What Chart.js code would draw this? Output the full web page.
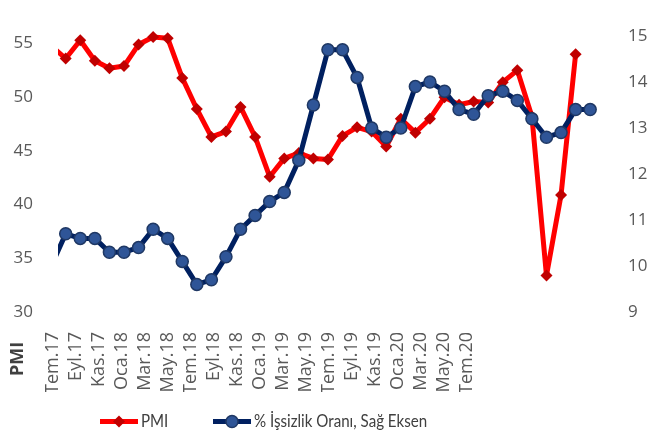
<!DOCTYPE html>
<html>
<head>
<meta charset="utf-8">
<script src="https://cdn.jsdelivr.net/npm/chart.js@4/dist/chart.umd.min.js"></script>
<style>
  html, body { margin: 0; padding: 0; background: #fff; }
</style>
</head>
<body>
<canvas id="pmiChart" width="664" height="438"></canvas>
<script>
// alt eksen etiketleri (iki ayda bir)
const tickLabels = ['Tem.17', 'Eyl.17', 'Kas.17', 'Oca.18', 'Mar.18', 'May.18', 'Tem.18',
  'Eyl.18', 'Kas.18', 'Oca.19', 'Mar.19', 'May.19', 'Tem.19', 'Eyl.19', 'Kas.19',
  'Oca.20', 'Mar.20', 'May.20', 'Tem.20'];

// PMI (sol eksen)
const pmi = [54.8, 53.6, 55.3, 53.4, 52.7, 52.9, 54.9, 55.6, 55.5, 51.8, 48.9, 46.3, 46.8,
  49.1, 46.3, 42.6, 44.3, 44.8, 44.3, 44.2, 46.4, 47.2, 46.8, 45.4, 48.0, 46.7, 48.0,
  50.0, 49.3, 49.6, 49.5, 51.4, 52.5, 48.2, 33.4, 40.9, 54.0];

// % işsizlik oranı (sağ eksen)
const issizlik = [10.0, 10.7, 10.6, 10.6, 10.3, 10.3, 10.4, 10.8, 10.6, 10.1, 9.6, 9.7, 10.2,
  10.8, 11.1, 11.4, 11.6, 12.3, 13.5, 14.7, 14.7, 14.1, 13.0, 12.8, 13.0, 13.9, 14.0,
  13.8, 13.4, 13.3, 13.7, 13.8, 13.6, 13.2, 12.8, 12.9, 13.4, 13.4];

const toPoints = arr => arr.map((v, i) => ({ x: i, y: v }));

const TICK_FONT = { family: '"Open Sans", sans-serif', size: 17 };
const GRAY = '#595959';

// legend + "PMI" yazısı elle çiziliyor
const extras = {
  id: 'extras',
  afterDraw(chart) {
    const ctx = chart.ctx;
    ctx.save();
    ctx.translate(18, 359);
    ctx.rotate(-Math.PI / 2);
    ctx.font = 'bold 18px "Open Sans", sans-serif';
    ctx.fillStyle = '#404040';
    ctx.textAlign = 'center';
    ctx.textBaseline = 'middle';
    ctx.fillText('PMI', 0, 0);
    ctx.restore();

    const y = 421.5;
    const items = [
      { x: 100, ds: chart.data.datasets[0] },
      { x: 213, ds: chart.data.datasets[1] }
    ];
    ctx.save();
    items.forEach(it => {
      const ds = it.ds;
      ctx.strokeStyle = ds.borderColor;
      ctx.lineWidth = ds.borderWidth;
      ctx.beginPath();
      ctx.moveTo(it.x, y);
      ctx.lineTo(it.x + 38, y);
      ctx.stroke();
      const cx = it.x + 19;
      ctx.fillStyle = ds.pointBackgroundColor;
      ctx.strokeStyle = ds.pointBorderColor;
      ctx.lineWidth = ds.pointBorderWidth;
      ctx.beginPath();
      if (ds.pointStyle === 'rectRot') {
        const r = ds.pointRadius;
        ctx.moveTo(cx, y - r);
        ctx.lineTo(cx + r, y);
        ctx.lineTo(cx, y + r);
        ctx.lineTo(cx - r, y);
        ctx.closePath();
      } else {
        ctx.arc(cx, y, ds.pointRadius, 0, Math.PI * 2);
      }
      ctx.fill();
      if (ds.pointBorderWidth) ctx.stroke();

      // legend yazısı biraz dar (Calibri gibi)
      ctx.save();
      ctx.translate(it.x + 41, y);
      ctx.scale(0.84, 1);
      ctx.font = '18px Lato, sans-serif';
      ctx.textBaseline = 'middle';
      ctx.textAlign = 'left';
      ctx.fillStyle = '#404040';
      ctx.fillText(ds.label, 0, 0);
      ctx.restore();
    });
    ctx.restore();
  }
};

new Chart(document.getElementById('pmiChart'), {
  type: 'line',
  data: {
    datasets: [{
      label: 'PMI',
      data: toPoints(pmi),
      xAxisID: 'x2',
      yAxisID: 'y',
      borderColor: '#FF0000',
      borderWidth: 5,
      borderJoinStyle: 'round',
      pointStyle: 'rectRot',
      pointRadius: 6,
      pointBackgroundColor: '#C00000',
      pointBorderColor: '#C00000',
      pointBorderWidth: 0,
      tension: 0,
      order: 1,
      clip: { left: 0, right: 0, top: false, bottom: false }
    }, {
      label: '% İşsizlik Oranı, Sağ Eksen',
      data: toPoints(issizlik),
      xAxisID: 'x2',
      yAxisID: 'y1',
      borderColor: '#002060',
      borderWidth: 5,
      borderJoinStyle: 'round',
      pointStyle: 'circle',
      pointRadius: 6,
      pointBackgroundColor: '#2F5597',
      pointBorderColor: '#1F3864',
      pointBorderWidth: 1.5,
      tension: 0,
      order: 0,
      clip: { left: 0, right: 0, top: false, bottom: false }
    }]
  },
  options: {
    responsive: false,
    animation: false,
    layout: { padding: { top: 36, bottom: 46, left: 0, right: 0 } },
    plugins: { legend: { display: false }, tooltip: { enabled: false } },
    scales: {
      x: {
        type: 'linear',
        position: 'bottom',
        min: 0,
        max: 23.68,
        grid: { display: false },
        border: { display: false },
        afterBuildTicks: scale => {
          scale.ticks = tickLabels.map((_, i) => ({ value: i }));
        },
        afterFit: scale => { scale.height = 80; },
        ticks: {
          autoSkip: false,
          minRotation: 90,
          maxRotation: 90,
          labelOffset: -5,
          padding: 12,
          color: GRAY,
          font: { family: '"Open Sans", sans-serif', size: 18 },
          callback: v => tickLabels[v]
        }
      },
      x2: {
        type: 'linear',
        display: false,
        min: 0.471,
        max: 37.88
      },
      y: {
        position: 'left',
        min: 30,
        max: 55.7,
        grid: { display: false },
        border: { display: false },
        afterFit: scale => { scale.width = 58; },
        ticks: { stepSize: 5, includeBounds: false, padding: 17, color: GRAY, font: TICK_FONT }
      },
      y1: {
        position: 'right',
        min: 9,
        max: 15,
        grid: { display: false },
        border: { display: false },
        afterFit: scale => { scale.width = 61; },
        ticks: { stepSize: 1, padding: 17, color: GRAY, font: TICK_FONT }
      }
    }
  },
  plugins: [extras]
});
</script>
</body>
</html>
